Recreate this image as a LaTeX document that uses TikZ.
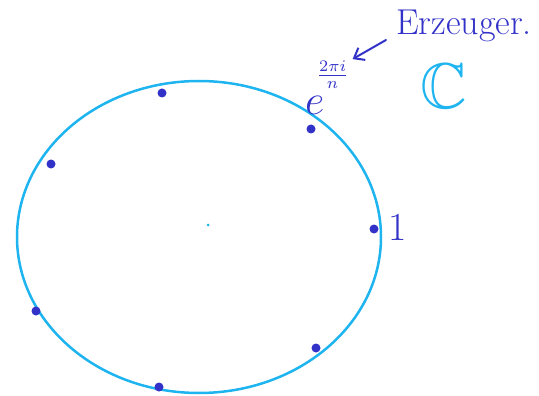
\documentclass[tikz,border=0pt]{standalone}
\usepackage{amsmath,amssymb}
\usepackage{fontspec}
\usetikzlibrary{arrows.meta,positioning}
\definecolor{skyline}{RGB}{30,180,240}
\definecolor{inkblue}{RGB}{50,50,200}
\tikzset{
  root/.style={circle,fill=inkblue,inner sep=0pt,minimum size=9pt},
  ink/.style={text=inkblue,inner sep=0pt}
}
\begin{document}
\begin{tikzpicture}[x=1pt,y=-1pt,>={Straight Barb[length=9pt,width=14pt]},line cap=round]
  \useasboundingbox (0,0) rectangle (539,396);
  \draw[skyline,line width=2.5pt] (199,237) ellipse [x radius=182,y radius=156];
  \node[circle,fill=skyline,inner sep=0pt,minimum size=3pt] (o) at (208,225) {};

  % seventh roots of unity
  \node[root] (w0) at (374,229) {};
  \node[root] (w1) at (311,129) {};
  \node[root] (w2) at (162,93) {};
  \node[root] (w3) at (51,164) {};
  \node[root] (w4) at (36,311) {};
  \node[root] (w5) at (159,387) {};
  \node[root] (w6) at (316,348) {};

  \node[ink,anchor=west] (one) at (388,228) {\scalebox{1.6}{\Huge$1$}};
  \node[ink,anchor=base west] (gen) at (305,115)
    {\scalebox{1.7}{\Huge$e$}\kern-8pt\raisebox{34pt}{\scalebox{2.3}{$\frac{2\pi i}{n}$}}};
  \node[ink,font=\fontsize{36}{36}\selectfont] (erz) at (464,26) {Erzeuger.};
  \coordinate (tail) at (386,40);
  \draw[->,inkblue,line width=2pt,shorten >=4pt] (tail) -- (gen.north east);

  \node[text=skyline] (cc) at (444,86) {\scalebox{2.6}{\Huge$\mathbb{C}$}};
\end{tikzpicture}
\end{document}
